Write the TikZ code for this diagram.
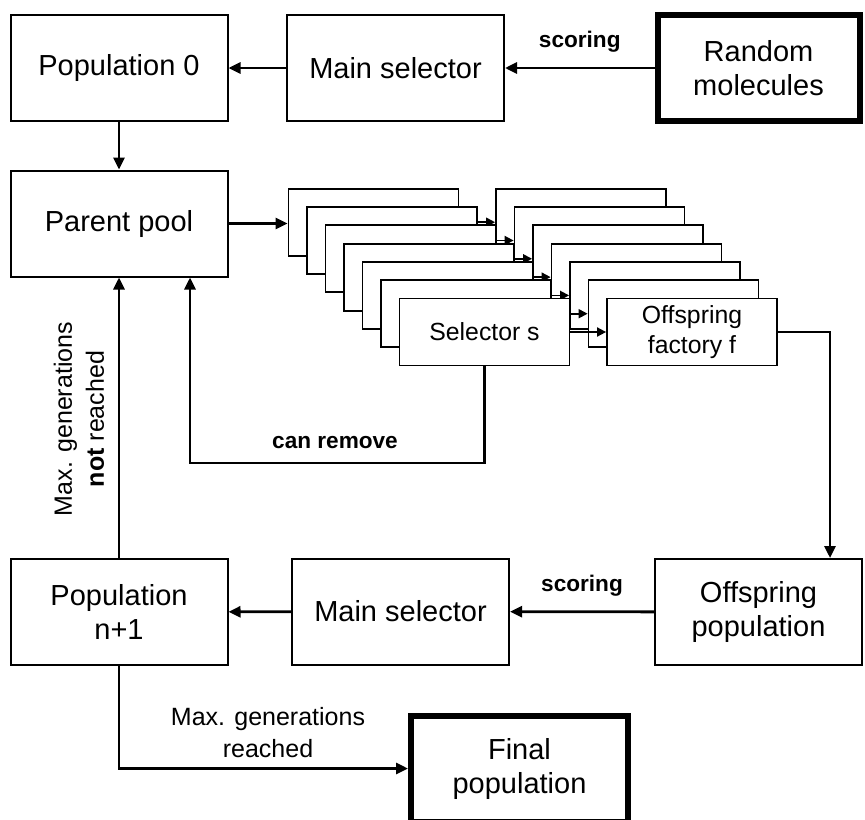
\documentclass[tikz,border=0pt]{standalone}
\usepackage{fontspec}
\setmainfont{Liberation Sans}
\usetikzlibrary{arrows.meta,positioning}

\begin{document}
\begin{tikzpicture}[
    x=0.5pt, y=-0.5pt,
    box/.style={draw, line width=1pt, fill=white, align=center, minimum width=108.5pt, minimum height=53pt, inner sep=2pt, font=\fontsize{14.5}{17}\selectfont},
    thickbox/.style={box, line width=3pt},
    stackbox/.style={draw, line width=0.9pt, fill=white, align=center, minimum width=85pt, minimum height=33.5pt, inner sep=1pt, font=\fontsize{12.4}{15}\selectfont},
    arr/.style={-{Triangle[length=6pt,width=5.5pt]}, line width=1.4pt},
    sarr/.style={-{Triangle[length=4.5pt,width=4.5pt]}, line width=0.9pt},
    lbl/.style={font=\bfseries\fontsize{11.3}{13}\selectfont, inner sep=1pt},
    note/.style={align=center, font=\fontsize{12.5}{16}\selectfont, inner sep=1pt}
]
\useasboundingbox (0,0) rectangle (865,819);
% top row
\node[box] (pop0) at (119,68) {Population 0};
\node[box] (msel1) at (395.5,68) {Main selector};
\node[thickbox, minimum width=101pt] (rand) at (758.5,68) {Random\\molecules};
\draw[arr] (rand) -- node[lbl, above=6pt] {scoring} (msel1);
\draw[arr] (msel1) -- (pop0);
\node[box] (parent) at (119,223.5) {Parent pool};
\draw[arr] (pop0) -- (parent);
% stacked selectors and factories
\foreach \i in {0,...,5} {
  \node[stackbox] (sel\i) at ({373.5+18.5*\i},{222.2+18.3*\i}) {};
  \node[stackbox] (fac\i) at ({581+18.5*\i},{222.2+18.3*\i}) {};
  \draw[sarr] (sel\i) -- (fac\i);
}
\node[stackbox] (sel6) at (484.5,332) {Selector s};
\node[stackbox] (fac6) at (692,332) {Offspring\\factory f};
\draw[sarr] (sel6) -- (fac6);
\draw[arr] (parent.east) -- (parent.east -| sel0.west);
% bottom row
\node[box, minimum width=103.5pt] (offs) at (758.5,612) {Offspring\\population};
\node[box] (msel2) at (400.5,611.5) {Main selector};
\node[box] (popn) at (119,612) {Population\\n+1};
\node[thickbox] (final) at (519.5,768.5) {Final\\population};
\draw[arr] (fac6.east) -| ([xshift=-16.5pt]offs.north east);
\draw[arr] (offs) -- node[lbl, above=6pt] {scoring} (msel2);
\draw[arr] (msel2) -- (popn);
\draw[arr] (popn) -- (popn |- parent.south);
\node[note, rotate=90] (notlbl) at (79,419) {Max. generations\\\textbf{not} reached};
\coordinate (rm) at (190,463);
\draw[arr] (sel6.south) |- (rm) -- (rm |- parent.south);
\node[lbl] (canlbl) at (335,443) {can remove};
\draw[arr] (popn.south) |- (final.west);
\node[note] (reachlbl) at (268,733) {Max. generations\\reached};
\end{tikzpicture}
\end{document}
